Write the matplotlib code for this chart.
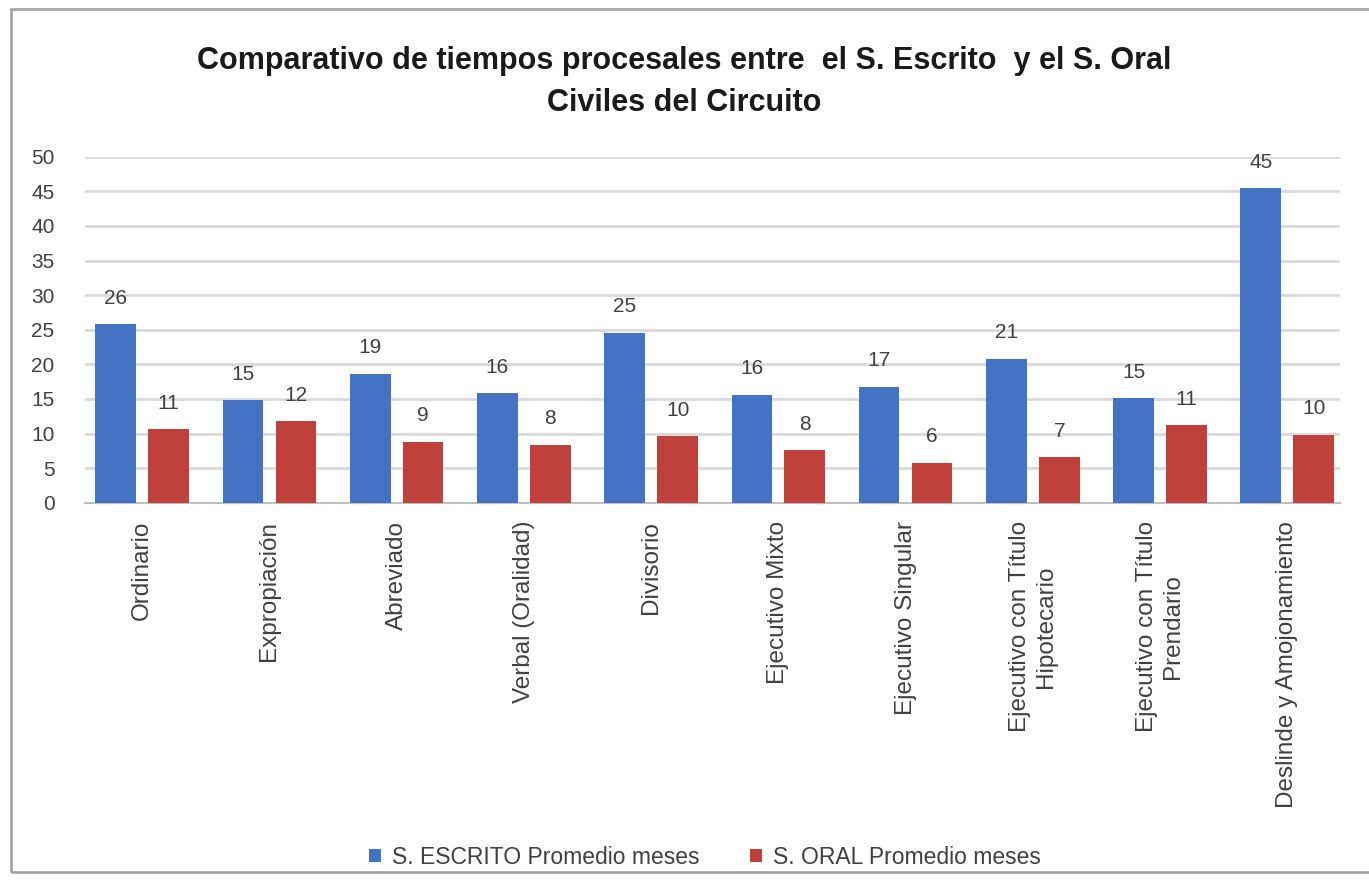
import numpy as np
import matplotlib.pyplot as plt
from matplotlib.patches import Rectangle

plt.rcParams["font.family"] = ["Liberation Sans", "DejaVu Sans"]

# Categories and averages (months)
categorias = [
    "Ordinario",
    "Expropiación",
    "Abreviado",
    "Verbal (Oralidad)",
    "Divisorio",
    "Ejecutivo Mixto",
    "Ejecutivo Singular",
    "Ejecutivo con Título\nHipotecario",
    "Ejecutivo con Título\nPrendario",
    "Deslinde y Amojonamiento",
]
escrito = [25.8, 14.8, 18.6, 15.8, 24.6, 15.6, 16.8, 20.8, 15.1, 45.4]
oral = [10.6, 11.8, 8.8, 8.4, 9.6, 7.6, 5.8, 6.6, 11.2, 9.8]
serie_escrito = "S. ESCRITO Promedio meses"
serie_oral = "S. ORAL Promedio meses"

azul = "#4472C4"
rojo = "#C0413B"

fig = plt.figure(figsize=(13.69, 8.9), dpi=100)
ax = fig.add_axes([85 / 1369, 0.435, 1255 / 1369, 0.389])

x = np.arange(len(categorias))
w = 0.32
b1 = ax.bar(x - 0.208, escrito, w, color=azul, label=serie_escrito, zorder=3)
b2 = ax.bar(x + 0.208, oral, w, color=rojo, label=serie_oral, zorder=3)

for bars in (b1, b2):
    for r in bars:
        h = r.get_height()
        ax.text(r.get_x() + r.get_width() / 2, h + 2.4, f"{h:.0f}",
                ha="center", va="bottom", fontsize=15, color="#404040")

ax.set_ylim(0, 50)
ax.set_xlim(-0.45, 9.415)
ax.set_yticks(range(0, 51, 5))
ax.yaxis.grid(True, color="#d9d9d9", linewidth=2, zorder=0)
ax.set_axisbelow(True)
for s in ["top", "right", "left"]:
    ax.spines[s].set_visible(False)
ax.spines["bottom"].set_color("#bfbfbf")
ax.spines["bottom"].set_linewidth(1.5)
ax.tick_params(axis="y", length=0, labelsize=15, labelcolor="#404040", pad=22)
ax.tick_params(axis="x", length=0, pad=13)
ax.set_xticks(x)
ax.set_xticklabels(categorias, rotation=90, va="top", ha="center",
                   fontsize=17.5, color="#404040", linespacing=1.25)

fig.text(0.5, 0.932, "Comparativo de tiempos procesales entre  el S. Escrito  y el S. Oral",
         ha="center", va="center", fontsize=22, fontweight="bold", color="#1a1a1a")
fig.text(0.5, 0.884, "Civiles del Circuito",
         ha="center", va="center", fontsize=22, fontweight="bold", color="#1a1a1a")

fig.legend(handles=[b1, b2], loc="center", bbox_to_anchor=(0.515, 0.037), ncol=2,
           frameon=False, fontsize=16.5, handlelength=0.5, handleheight=0.5,
           handletextpad=0.5, columnspacing=2.2, labelcolor="#404040")

# outer chart frame
fig.patches.append(Rectangle((0.008, 0.02), 1.2, 0.97, transform=fig.transFigure,
                             fill=False, edgecolor="#a6a6a6", linewidth=2))

fig.savefig("out.png", dpi=100)
